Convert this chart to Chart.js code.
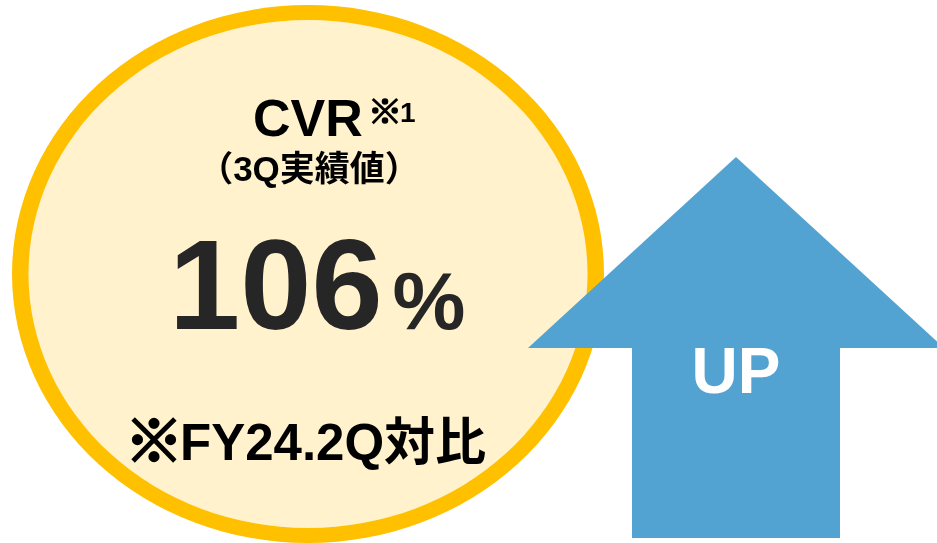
<!DOCTYPE html>
<html>
<head>
<meta charset="utf-8">
<script src="https://cdn.jsdelivr.net/npm/chart.js@4.4.1/dist/chart.umd.min.js"></script>
<style>
    body { margin: 0; background: #fff; }
    .wrap { position: relative; width: 937px; height: 543px; overflow: hidden; }
    .wrap canvas { position: absolute; left: 0; top: 0; }
</style>
</head>
<body>
<div class="wrap">
    <canvas id="circleChart" width="937" height="543"></canvas>
    <canvas id="arrowChart" width="937" height="543"></canvas>
</div>
<script>
// Data
const metricLabel = ['CVR', '※1'];
const periodLabel = ['（3Q実績値）'];
const cvrValue = [106];
const compareLabel = ['※', 'FY24.2Q対比'];
const arrowLabel = ['UP'];
const arrowShaft = [1];

const FONT = '"Liberation Sans", Arial, "Noto Sans CJK JP", sans-serif';
const MARK_FONT = '"Noto Sans CJK JP", sans-serif';

// Stretch the round doughnut into the ellipse of the reference
const ellipsePlugin = {
    id: 'ellipse',
    beforeDatasetsDraw(chart) {
        const arc = chart.getDatasetMeta(0).data[0];
        const ctx = chart.ctx;
        ctx.save();
        ctx.translate(arc.x, arc.y);
        ctx.scale(296 / arc.outerRadius, 1);
        ctx.translate(-arc.x, -arc.y);
    },
    afterDatasetsDraw(chart) {
        chart.ctx.restore();
    }
};

// the reference mark is heavier than the font's glyph, so stroke it too
function drawMark(ctx, text, x, y, size, weight) {
    ctx.font = 'bold ' + size + 'px ' + MARK_FONT;
    ctx.fillText(text, x, y);
    ctx.lineWidth = weight;
    ctx.strokeStyle = ctx.fillStyle;
    ctx.strokeText(text, x, y);
}

// Texts inside the circle
const circleTextPlugin = {
    id: 'circleText',
    afterDraw(chart) {
        const arc = chart.getDatasetMeta(0).data[0];
        const cx = arc.x, cy = arc.y;
        const ctx = chart.ctx;
        ctx.save();
        ctx.textBaseline = 'alphabetic';
        ctx.textAlign = 'left';
        ctx.fillStyle = '#000';

        // CVR ※1
        ctx.font = 'bold 52px ' + FONT;
        const left = cx - 55;
        ctx.fillText(metricLabel[0], left, cy - 138);
        ctx.textAlign = 'center';
        drawMark(ctx, metricLabel[1][0], cx + 77, cy - 150, 34, 1.5);
        ctx.textAlign = 'left';
        ctx.font = 'bold 28px ' + FONT;
        ctx.fillText(metricLabel[1].slice(1), cx + 92, cy - 152);

        // (3Q実績値)
        ctx.textAlign = 'center';
        ctx.font = 'bold 35px ' + FONT;
        ctx.fillText(periodLabel[0], cx + 1, cy - 93);

        // 106%
        ctx.fillStyle = '#262626';
        ctx.textAlign = 'left';
        ctx.font = 'bold 128px ' + FONT;
        const numText = String(cvrValue[0]);
        ctx.fillText(numText, cx - 139, cy + 55);
        const nw = ctx.measureText(numText).width;
        ctx.font = 'bold 82px ' + FONT;
        ctx.fillText('%', cx - 139 + nw + 10, cy + 55);

        // ※FY24.2Q対比
        ctx.fillStyle = '#000';
        ctx.textAlign = 'center';
        drawMark(ctx, compareLabel[0], cx - 154, cy + 188, 58, 2.5);
        ctx.textAlign = 'left';
        ctx.font = 'bold 51px ' + FONT;
        ctx.fillText(compareLabel[1], cx - 128, cy + 186);
        ctx.restore();
    }
};

// Arrow head on top of the shaft bar, plus the UP label
const arrowPlugin = {
    id: 'arrowHead',
    afterDatasetsDraw(chart) {
        const bar = chart.getDatasetMeta(0).data[0];
        const ctx = chart.ctx;
        const top = chart.chartArea.top;
        ctx.save();
        ctx.fillStyle = '#52a2d2';
        ctx.beginPath();
        ctx.moveTo(bar.x - bar.width, bar.y + 0.5);
        ctx.lineTo(bar.x, top);
        ctx.lineTo(bar.x + bar.width, bar.y + 0.5);
        ctx.closePath();
        ctx.fill();

        ctx.fillStyle = '#fff';
        ctx.textAlign = 'center';
        ctx.textBaseline = 'alphabetic';
        ctx.font = 'bold 64px ' + FONT;
        ctx.fillText(arrowLabel[0], bar.x, bar.y + 45);
        ctx.restore();
    }
};

function createCircle() {
    const ctx = document.getElementById('circleChart').getContext('2d');
    new Chart(ctx, {
        type: 'doughnut',
        data: {
            labels: ['CVR'],
            datasets: [
                {
                    data: cvrValue,
                    backgroundColor: '#ffc000',
                    borderWidth: 0,
                    hoverOffset: 0,
                    weight: 15,
                    clip: false
                },
                {
                    data: cvrValue,
                    backgroundColor: '#fff2cc',
                    borderWidth: 0,
                    hoverOffset: 0,
                    weight: 254,
                    clip: false
                }
            ]
        },
        options: {
            responsive: false,
            animation: false,
            events: [],
            cutout: 0,
            layout: { padding: { left: 39, right: 360, top: 5, bottom: 0 } },
            plugins: {
                legend: { display: false },
                tooltip: { enabled: false }
            }
        },
        plugins: [ellipsePlugin, circleTextPlugin]
    });
}

function createArrow() {
    const ctx = document.getElementById('arrowChart').getContext('2d');
    new Chart(ctx, {
        type: 'bar',
        data: {
            labels: arrowLabel,
            datasets: [{
                data: arrowShaft,
                backgroundColor: '#52a2d2',
                borderWidth: 0,
                categoryPercentage: 1,
                barPercentage: 1
            }]
        },
        options: {
            responsive: false,
            animation: false,
            events: [],
            layout: { padding: { left: 632, right: 97, top: 157, bottom: 5 } },
            scales: {
                x: { display: false },
                y: { display: false, min: 0, max: 2 }
            },
            plugins: {
                legend: { display: false },
                tooltip: { enabled: false }
            }
        },
        plugins: [arrowPlugin]
    });
}

document.addEventListener('DOMContentLoaded', function() {
    createCircle();
    createArrow();
});
</script>
</body>
</html>
